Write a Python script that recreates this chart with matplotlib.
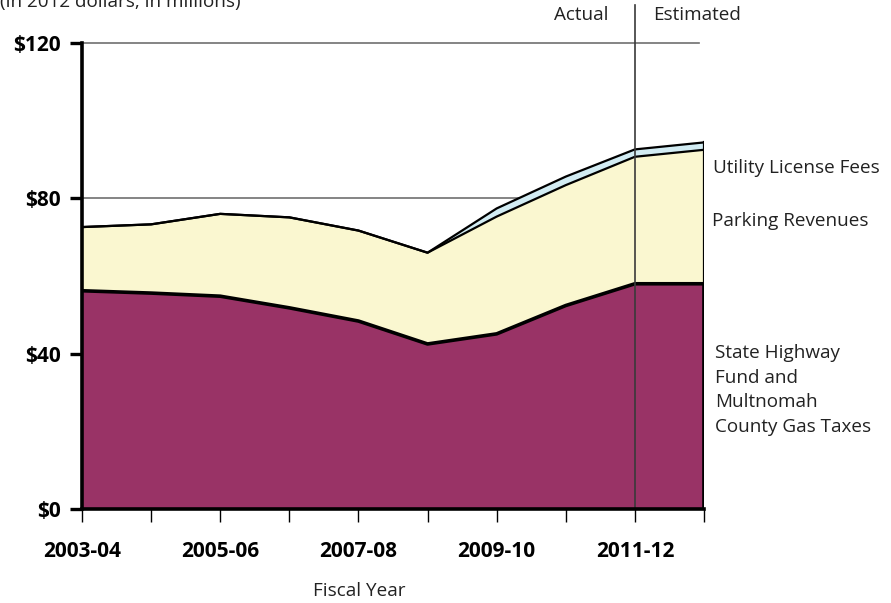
"""Transportation revenue stacked area chart (2012 dollars)."""

import matplotlib
matplotlib.use("Agg")
import matplotlib.pyplot as plt
import numpy as np

plt.rcParams["font.family"] = ["Open Sans", "DejaVu Sans"]

years = ["2003-04", "2004-05", "2005-06", "2006-07", "2007-08",
         "2008-09", "2009-10", "2010-11", "2011-12", "2012-13"]
gas_taxes = [56.2, 55.6, 54.8, 51.8, 48.4, 42.5, 45.1, 52.4, 58.0, 58.0]
parking = [16.4, 17.7, 21.2, 23.3, 23.3, 23.5, 30.2, 31.0, 32.7, 34.5]
utility = [0.0, 0.0, 0.0, 0.0, 0.0, 0.0, 2.1, 2.2, 1.9, 1.9]
tick_labels = ["2003-04", "", "2005-06", "", "2007-08", "", "2009-10", "", "2011-12", ""]
estimate_start = "2011-12"

MAROON = "#993366"
CREAM = "#FAF7D0"
LIGHT_BLUE = "#D2ECF3"
TEXT = "#222222"
FS = 13.6

x = np.arange(len(years))
gas = np.array(gas_taxes)
park_top = gas + np.array(parking)
util_top = park_top + np.array(utility)

fig = plt.figure(figsize=(8.91, 6.03), dpi=100)
ax = fig.add_axes([82 / 891, 1 - 509 / 603, (704 - 82) / 891, (509 - 43) / 603])

for level in (40, 80, 120):
    ax.plot([0, 8.93], [level, level], color="#6f6f6f", linewidth=1.2, zorder=1, clip_on=False)

ax.fill_between(x, park_top, util_top, facecolor=LIGHT_BLUE, edgecolor="none", zorder=2)
ax.fill_between(x, gas, park_top, facecolor=CREAM, edgecolor="none", zorder=2)
ax.fill_between(x, 0, gas, facecolor=MAROON, edgecolor="none", zorder=2)
ax.plot(x, util_top, color="black", linewidth=1.6, zorder=3)
ax.plot(x, park_top, color="black", linewidth=1.6, zorder=3)
ax.plot(x, gas, color="black", linewidth=2.6, zorder=3)
ax.plot([x[-1], x[-1]], [0, util_top[-1]], color="black", linewidth=1.6, zorder=3)
ax.plot([x[-1], x[-1]], [0, gas[-1]], color="black", linewidth=2.6, zorder=3)

split = years.index(estimate_start)
ax.plot([split, split], [0, 129.8], color="#3a3a3a", linewidth=1.2, zorder=4, clip_on=False)
ax.text(split - 0.38, 127.3, "Actual", ha="right", va="center", fontsize=FS, color=TEXT)
ax.text(split + 0.26, 127.3, "Estimated", ha="left", va="center", fontsize=FS, color=TEXT)

ax.set_xlim(0, 9)
ax.set_ylim(0, 120)
ax.set_yticks([0, 40, 80, 120])
ax.set_yticklabels(["$0", "$40", "$80", "$120"], fontsize=15, fontweight="bold")
ax.set_xticks(x)
ax.set_xticklabels(tick_labels, fontsize=15, fontweight="bold")
ax.tick_params(axis="y", length=9, width=2.4, pad=6)
ax.tick_params(axis="x", length=9, width=1.0, pad=14)
for side in ("top", "right"):
    ax.spines[side].set_visible(False)
for side in ("left", "bottom"):
    ax.spines[side].set_linewidth(2.6)
    ax.spines[side].set_zorder(5)

fig.text(0.0, 1 - 7 / 603, "(in 2012 dollars, in millions)", ha="left", va="baseline",
         fontsize=FS, color=TEXT)
fig.text(359 / 891, 1 - 591 / 603, "Fiscal Year", ha="center", va="center", fontsize=FS, color=TEXT)

fig.text(713 / 891, 1 - 168 / 603, "Utility License Fees", ha="left", va="center", fontsize=FS, color=TEXT)
fig.text(712 / 891, 1 - 221 / 603, "Parking Revenues", ha="left", va="center", fontsize=FS, color=TEXT)
fig.text(715 / 891, 1 - 390 / 603, "State Highway\nFund and\nMultnomah\nCounty Gas Taxes",
         ha="left", va="center", fontsize=FS, color=TEXT, linespacing=1.47)

fig.savefig("out.png", dpi=100)
